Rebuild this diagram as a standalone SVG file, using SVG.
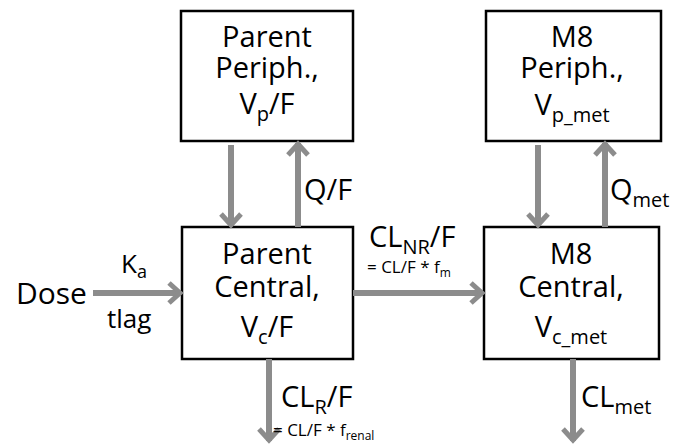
<svg xmlns="http://www.w3.org/2000/svg" width="675" height="445" viewBox="0 0 675 445">
  <style>
    .box { fill: #ffffff; stroke: #000000; stroke-width: 2.5; }
    .t { font-family: "Open Sans", "Liberation Sans", sans-serif; font-size: 29px; fill: #000000; }
    .tc { text-anchor: middle; }
    .sub { font-size: 20px; }
    .small { font-family: "Open Sans", "Liberation Sans", sans-serif; font-size: 17px; fill: #000000; }
    .smallsub { font-size: 12px; }
    .arrow { stroke: #8c8c8c; stroke-width: 6; fill: none; marker-end: url(#head); }
  </style>
  <defs>
    <marker id="head" markerUnits="userSpaceOnUse" viewBox="-16 -13 20 26" refX="0" refY="0" markerWidth="20" markerHeight="26" orient="auto">
      <path d="M-12,-10 L-1,0 L-12,10" fill="none" stroke="#8c8c8c" stroke-width="5" stroke-linejoin="miter"/>
    </marker>
  </defs>

  <!-- compartments -->
  <g id="parent-periph">
    <rect class="box" x="181" y="11" width="172" height="130"/>
    <text class="t tc" x="267" y="47">Parent</text>
    <text class="t tc" x="267" y="78">Periph.,</text>
    <text class="t tc" x="267" y="114">V<tspan class="sub" dy="7">p</tspan><tspan dy="-7">/F</tspan></text>
  </g>

  <g id="parent-central">
    <rect class="box" x="182" y="227" width="171" height="132"/>
    <text class="t tc" x="267" y="264">Parent</text>
    <text class="t tc" x="267" y="297">Central,</text>
    <text class="t tc" x="267" y="337">V<tspan class="sub" dy="7">c</tspan><tspan dy="-7">/F</tspan></text>
  </g>

  <g id="m8-periph">
    <rect class="box" x="486" y="11" width="175" height="130"/>
    <text class="t tc" x="572" y="47">M8</text>
    <text class="t tc" x="572" y="78">Periph.,</text>
    <text class="t tc" x="572" y="115">V<tspan class="sub" dy="7">p_met</tspan></text>
  </g>

  <g id="m8-central">
    <rect class="box" x="484" y="227" width="175" height="132"/>
    <text class="t tc" x="571" y="264">M8</text>
    <text class="t tc" x="571" y="297">Central,</text>
    <text class="t tc" x="571" y="337">V<tspan class="sub" dy="7">c_met</tspan></text>
  </g>

  <g id="dose">
    <text class="t" x="16" y="304" style="font-size:30px">Dose</text>
  </g>

  <!-- transfer and elimination arrows -->
  <g id="connectors">
    <line class="arrow" x1="93" y1="293" x2="181" y2="293"/>
    <line class="arrow" x1="231" y1="145" x2="231" y2="226"/>
    <line class="arrow" x1="298" y1="227" x2="298" y2="143"/>
    <line class="arrow" x1="353" y1="293" x2="483" y2="293"/>
    <line class="arrow" x1="538" y1="145" x2="538" y2="226"/>
    <line class="arrow" x1="605" y1="227" x2="605" y2="143"/>
    <line class="arrow" x1="269" y1="359" x2="269" y2="441"/>
    <line class="arrow" x1="573" y1="359" x2="573" y2="441"/>
  </g>

  <!-- rate labels -->
  <g id="labels">
    <text class="t" x="121" y="273" style="font-size:26px">K<tspan class="sub" style="font-size:18px" dy="5">a</tspan></text>
    <text class="t" x="107" y="328" style="font-size:26px">tlag</text>
    <text class="t" x="304" y="200">Q/F</text>
    <text class="t" x="610" y="200">Q<tspan class="sub" dy="7">met</tspan></text>
    <text class="t" x="369" y="247">CL<tspan class="sub" dy="7">NR</tspan><tspan dy="-7">/F</tspan></text>
    <text class="small" x="367" y="273">= CL/F * f<tspan class="smallsub" dy="4">m</tspan></text>
    <text class="t" x="281" y="407">CL<tspan class="sub" dy="7">R</tspan><tspan dy="-7">/F</tspan></text>
    <text class="small" x="273" y="436">= CL/F * f<tspan class="smallsub" dy="4">renal</tspan></text>
    <text class="t" x="581" y="407">CL<tspan class="sub" dy="7">met</tspan></text>
  </g>
</svg>
